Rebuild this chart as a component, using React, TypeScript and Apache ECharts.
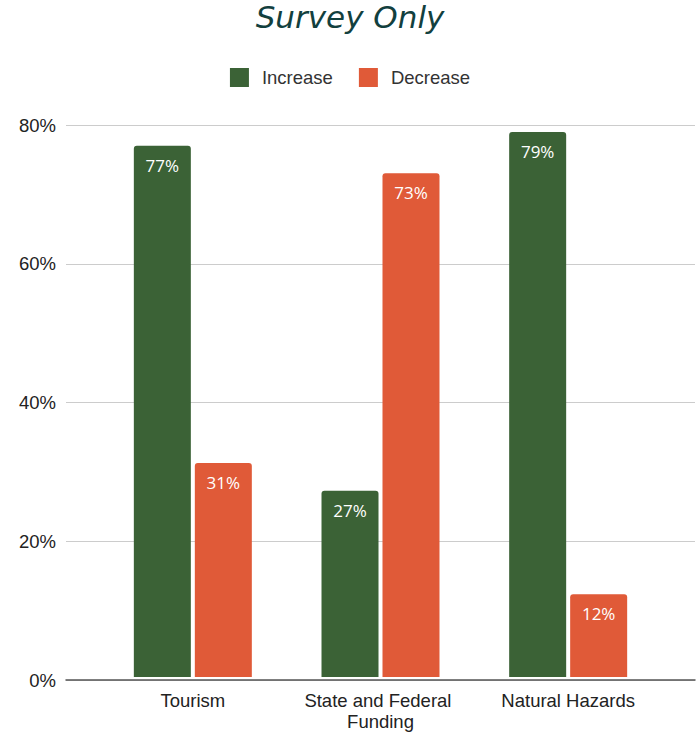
import React, { useEffect, useRef } from "react";
import * as echarts from "echarts";

const categories = ["Tourism", "State and Federal Funding", "Natural Hazards"];
const increaseValues = [77, 27, 79];
const decreaseValues = [31, 73, 12];
const yTicks = [0, 20, 40, 60, 80];

const GREEN = "#3b6236";
const ORANGE = "#e05a38";
const FONT = "Liberation Sans";

export default function App() {
  const ref = useRef<HTMLDivElement>(null);
  useEffect(() => {
    if (!ref.current) return;
    const chart = echarts.init(ref.current, null, { renderer: "svg" });
    const labelCfg = {
      show: true,
      position: "insideTop" as const,
      distance: 11,
      color: "#ffffff",
      fontSize: 17,
      fontFamily: "Open Sans",
      formatter: (p: any) => p.value + "%",
    };
    chart.setOption({
      animation: false,
      backgroundColor: "#ffffff",
      title: {
        text: "Survey Only",
        left: "center",
        top: -4,
        textStyle: {
          fontFamily: "DejaVu Sans",
          fontStyle: "italic",
          fontWeight: "normal",
          fontSize: 31,
          color: "#12403e",
        },
      },
      legend: {
        top: 63,
        left: "center",
        itemWidth: 19,
        itemHeight: 19,
        itemGap: 26,
        icon: "rect",
        textStyle: { fontFamily: FONT, fontSize: 18.5, color: "#333", padding: [0, 0, 0, 8] },
        data: ["Increase", "Decrease"],
      },
      grid: [
        { left: 99, right: 38, top: 125, bottom: 52 },
        { left: 66, right: 5, top: 125, bottom: 52 },
      ],
      xAxis: [
        {
          type: "category",
          gridIndex: 0,
          data: categories,
          axisLine: { show: false },
          axisTick: { show: false },
          axisLabel: {
            interval: 0,
            fontFamily: FONT,
            fontSize: 18.5,
            color: "#222",
            margin: 13,
            width: 180,
            overflow: "break",
            lineHeight: 21,
          },
        },
        {
          type: "value",
          gridIndex: 1,
          min: 0,
          max: 1,
          axisLine: { show: true, lineStyle: { color: "#555", width: 1.5 } },
          axisTick: { show: false },
          axisLabel: { show: false },
          splitLine: { show: false },
        },
      ],
      yAxis: [
        {
          type: "value",
          gridIndex: 0,
          min: 0,
          max: 80,
          interval: 20,
          axisLabel: { show: false },
          axisLine: { show: false },
          axisTick: { show: false },
          splitLine: { show: false },
        },
        {
          type: "value",
          gridIndex: 1,
          min: yTicks[0],
          max: yTicks[yTicks.length - 1],
          interval: 20,
          axisLabel: {
            formatter: "{value}%",
            fontFamily: FONT,
            fontSize: 18.5,
            color: "#222",
            margin: 10,
          },
          axisLine: { show: false },
          axisTick: { show: false },
          splitLine: { lineStyle: { color: "#cccccc", width: 1 } },
        },
      ],
      series: [
        {
          name: "Increase",
          type: "bar",
          xAxisIndex: 0,
          yAxisIndex: 0,
          data: increaseValues,
          barWidth: 57,
          barGap: "7%",
          itemStyle: { color: GREEN, borderRadius: [3, 3, 0, 0] },
          label: labelCfg,
        },
        {
          name: "Decrease",
          type: "bar",
          xAxisIndex: 0,
          yAxisIndex: 0,
          data: decreaseValues,
          barWidth: 57,
          barGap: "7%",
          itemStyle: { color: ORANGE, borderRadius: [3, 3, 0, 0] },
          label: labelCfg,
        },
      ],
    });
    return () => chart.dispose();
  }, []);
  return <div ref={ref} style={{ width: 700, height: 732, position: "absolute", left: 0, top: 0 }} />;
}
